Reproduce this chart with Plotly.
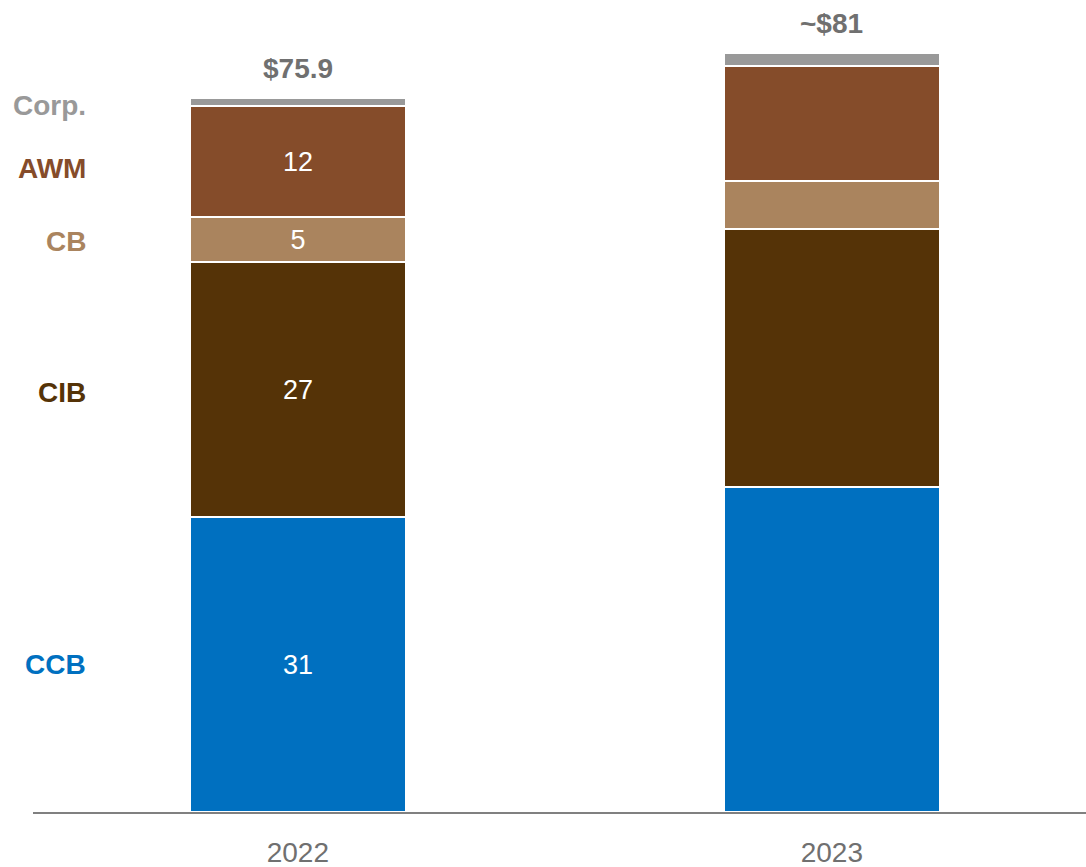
import plotly.graph_objects as go

years = ["2022", "2023"]
segments = ["CCB", "CIB", "CB", "AWM", "Corp."]
values = {
    "CCB": [31.35, 34.5],
    "CIB": [27.1, 27.5],
    "CB": [4.75, 5.05],
    "AWM": [11.85, 12.2],
    "Corp.": [0.85, 1.45],
}
bar_labels = {
    "CCB": ["31", ""],
    "CIB": ["27", ""],
    "CB": ["5", ""],
    "AWM": ["12", ""],
    "Corp.": ["", ""],
}
totals_text = ["$75.9", "~$81"]
colors = {
    "CCB": "#0070C0",
    "CIB": "#553307",
    "CB": "#AA845E",
    "AWM": "#854C2A",
    "Corp.": "#999999",
}
label_colors = {
    "CCB": "#0070C0",
    "CIB": "#553307",
    "CB": "#AA845E",
    "AWM": "#854C2A",
    "Corp.": "#999999",
}
label_shift = {"CCB": 0, "CIB": -3, "CB": -2, "AWM": -7, "Corp.": -4}

FONT = "Arial, Liberation Sans, sans-serif"
xpos = [0, 1]

fig = go.Figure()
for s in segments:
    fig.add_trace(go.Bar(
        x=xpos, y=values[s], name=s, width=0.404,
        marker=dict(color=colors[s], line=dict(color="white", width=2)),
        text=bar_labels[s], textposition="inside", insidetextanchor="middle",
        textangle=0, constraintext="none",
        textfont=dict(color="white", size=27, family=FONT),
        hoverinfo="skip",
    ))

totals = [sum(values[s][i] for s in segments) for i in range(2)]
annotations = []
for i in range(2):
    annotations.append(dict(
        x=xpos[i], y=totals[i], xref="x", yref="y", text="<b>%s</b>" % totals_text[i],
        showarrow=False, yanchor="middle", yshift=29,
        font=dict(size=28, color="#707070", family=FONT),
    ))

cum = 0
for s in segments:
    v = values[s][0]
    mid = cum + v / 2
    cum += v
    annotations.append(dict(
        x=-0.3925, y=mid, xref="x", yref="y", text="<b>%s</b>" % s,
        showarrow=False, xanchor="right", yanchor="middle", yshift=label_shift[s],
        font=dict(size=28, color=label_colors[s], family=FONT),
    ))

fig.update_layout(
    barmode="stack",
    width=1086, height=867,
    margin=dict(l=33, r=0, t=0, b=55),
    plot_bgcolor="white", paper_bgcolor="white",
    showlegend=False,
    annotations=annotations,
    bargap=0,
)
fig.update_xaxes(
    range=[-0.496, 1.476], tickvals=xpos, ticktext=years,
    showline=True, linecolor="#808080", linewidth=2,
    showgrid=False, zeroline=False,
    ticks="outside", ticklen=14, tickcolor="rgba(0,0,0,0)",
    tickfont=dict(size=28, color="#707070", family=FONT),
)
fig.update_yaxes(range=[0, 812 / 9.41], visible=False, showgrid=False)

fig.write_html("out.html")
